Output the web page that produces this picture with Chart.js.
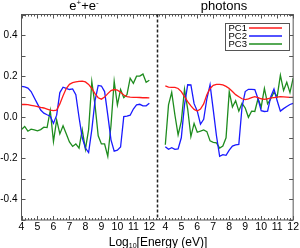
<!DOCTYPE html>
<html>
<head>
<meta charset="utf-8">
<script src="https://cdn.jsdelivr.net/npm/chart.js@4"></script>
<style>
  html, body { margin: 0; padding: 0; background: #fff; }
  #wrap { width: 300px; height: 248px; }
</style>
</head>
<body>
<div id="wrap"><canvas id="pcChart"></canvas></div>
<script>
// log10 of the energy (eV), same grid for both panels
const logEnergy = [4.0, 4.2, 4.4, 4.6, 4.8, 5.0, 5.2, 5.4, 5.6, 5.8,
                   6.0, 6.2, 6.4, 6.6, 6.8, 7.0, 7.2, 7.4, 7.6, 7.8,
                   8.0, 8.2, 8.4, 8.6, 8.8, 9.0, 9.2, 9.4, 9.6, 9.8,
                   10.0, 10.2, 10.4, 10.6, 10.8, 11.0, 11.2, 11.4, 11.6, 11.8, 12.0];

// e+ + e- panel
const leptonPC1 = [0.062, 0.062, 0.061, 0.058, 0.055, 0.052, 0.048, 0.045, 0.040, 0.035,
                   0.032, 0.035, 0.065, 0.105, 0.140, 0.160, 0.168, 0.172, 0.175, 0.176,
                   0.172, 0.160, 0.140, 0.115, 0.095, 0.088, 0.098, 0.115, 0.130, 0.135,
                   0.132, 0.122, 0.108, 0.100, 0.098, 0.097, 0.097, 0.096, 0.095, 0.095, 0.094];
const leptonPC2 = [0.150, 0.148, 0.142, 0.125, 0.095, 0.065, 0.035, 0.020, 0.012, 0.005,
                   -0.030, 0.010, 0.120, 0.146, 0.140, 0.135, 0.138, 0.110, 0.000, -0.100,
                   -0.150, -0.172, -0.060, 0.080, 0.155, 0.152, 0.125, 0.010, -0.110, -0.165,
                   -0.160, -0.145, 0.003, 0.005, 0.010, 0.040, 0.060, 0.063, 0.055, 0.056, 0.068];
const leptonPC3 = [-0.060, -0.045, -0.068, -0.058, -0.062, -0.066, -0.060, -0.048, -0.050, 0.033,
                   -0.118, -0.013, -0.081, -0.041, -0.080, -0.120, -0.142, -0.130, -0.150, -0.060,
                   -0.155, -0.060, 0.173, 0.060, -0.090, -0.130, -0.130, -0.190, -0.040, 0.175,
                   0.060, 0.135, 0.095, 0.110, 0.190, 0.165, 0.200, 0.200, 0.210, 0.170, 0.180];

// photons panel
const photonPC1 = [0.153, 0.147, 0.145, 0.145, 0.140, 0.125, 0.100, 0.076, 0.055, 0.038,
                   0.030, 0.040, 0.065, 0.110, 0.140, 0.155, 0.160, 0.160, 0.157, 0.150,
                   0.140, 0.125, 0.110, 0.100, 0.090, 0.086, 0.090, 0.096, 0.100, 0.096,
                   0.090, 0.087, 0.090, 0.094, 0.096, 0.098, 0.100, 0.099, 0.098, 0.097, 0.097];
const photonPC2 = [-0.143, -0.156, -0.148, -0.156, -0.154, -0.100, 0.060, 0.158, 0.157, 0.066,
                   0.030, -0.034, -0.010, 0.090, 0.158, 0.036, -0.090, -0.190, -0.182, -0.185,
                   -0.160, -0.140, -0.134, -0.132, 0.050, 0.125, 0.136, 0.136, 0.135, 0.090,
                   0.032, 0.028, 0.030, 0.100, 0.137, 0.080, 0.030, 0.042, 0.052, 0.062, 0.068];
const photonPC3 = [-0.134, 0.060, 0.121, 0.011, -0.086, -0.020, 0.136, 0.040, -0.094, -0.030,
                   -0.073, -0.068, -0.062, -0.070, -0.115, -0.122, -0.125, -0.150, -0.140, -0.100,
                   0.124, 0.050, 0.080, 0.030, 0.068, 0.045, 0.000, 0.030, 0.028, 0.090,
                   0.050, 0.140, 0.065, 0.090, 0.122, 0.100, 0.205, 0.130, 0.170, 0.120, 0.190];

const seriesNames = ['PC1', 'PC2', 'PC3'];
const seriesColors = ['#ff1a1a', '#1a1aff', '#1e8c1e'];
const panelTitles = ['photons'];

// the photon panel is placed right of the lepton one on a shared axis
const PANEL_SHIFT = 9;
const SPLIT_AT = 12.5;

function joinPanels(left, right) {
  const pts = logEnergy.map((e, i) => ({ x: e, y: left[i] }));
  pts.push({ x: SPLIT_AT, y: null });
  logEnergy.forEach((e, i) => pts.push({ x: e + PANEL_SHIFT, y: right[i] }));
  return pts;
}

const lefts = [leptonPC1, leptonPC2, leptonPC3];
const rights = [photonPC1, photonPC2, photonPC3];

const datasets = seriesNames.map((name, k) => ({
  label: name,
  data: joinPanels(lefts[k], rights[k]),
  borderColor: seriesColors[k],
  borderWidth: 1.3,
  pointRadius: 0,
  tension: 0,
  spanGaps: false
}));

const frameColor = '#555';
const fontFamily = '"Liberation Sans", Arial, sans-serif';

const decorPlugin = {
  id: 'decor',
  afterDraw(chart) {
    const ctx = chart.ctx;
    const a = chart.chartArea;
    const xs = chart.scales.x;
    const ys = chart.scales.y;
    ctx.save();

    // frame
    ctx.strokeStyle = frameColor;
    ctx.lineWidth = 1;
    ctx.strokeRect(a.left, a.top, a.right - a.left, a.bottom - a.top);

    // y ticks, both sides, inward
    ctx.beginPath();
    ys.ticks.forEach(t => {
      const py = Math.round(ys.getPixelForValue(t.value)) + 0.5;
      ctx.moveTo(a.left, py); ctx.lineTo(a.left + 4, py);
      ctx.moveTo(a.right, py); ctx.lineTo(a.right - 4, py);
    });
    // x major ticks, top and bottom
    xs.ticks.forEach(t => {
      const px = Math.round(xs.getPixelForValue(t.value)) + 0.5;
      ctx.moveTo(px, a.bottom); ctx.lineTo(px, a.bottom - 4);
      ctx.moveTo(px, a.top); ctx.lineTo(px, a.top + 4);
    });
    // x minor ticks every 0.2
    for (let v = xs.min; v <= xs.max + 1e-6; v += 0.2) {
      const px = Math.round(xs.getPixelForValue(v)) + 0.5;
      ctx.moveTo(px, a.bottom); ctx.lineTo(px, a.bottom - 2);
      ctx.moveTo(px, a.top); ctx.lineTo(px, a.top + 2);
    }
    ctx.stroke();

    // panel divider
    const sx = Math.round(xs.getPixelForValue(SPLIT_AT)) + 0.5;
    ctx.strokeStyle = '#222';
    ctx.lineWidth = 1.5;
    ctx.setLineDash([3, 2]);
    ctx.beginPath();
    ctx.moveTo(sx, a.top); ctx.lineTo(sx, a.bottom);
    ctx.stroke();
    ctx.setLineDash([]);

    // panel titles
    ctx.fillStyle = '#000';
    ctx.textBaseline = 'alphabetic';
    const big = '13px ' + fontFamily;
    const small = '8px ' + fontFamily;
    const parts = [['e', big, 0], ['+', small, -5], ['+e', big, 0], ['-', small, -5]];
    let w = 0;
    parts.forEach(p => { ctx.font = p[1]; w += ctx.measureText(p[0]).width; });
    let tx = 84 - w / 2;
    ctx.textAlign = 'left';
    parts.forEach(p => {
      ctx.font = p[1];
      ctx.fillText(p[0], tx, 10 + p[2]);
      tx += ctx.measureText(p[0]).width;
    });
    ctx.font = big;
    ctx.textAlign = 'center';
    ctx.fillText(panelTitles[0], 224, 10);

    // x axis title with subscript
    const tparts = [['Log', '12px ' + fontFamily, 0],
                    ['10', '7px ' + fontFamily, 2],
                    ['[Energy (eV)]', '12px ' + fontFamily, 0]];
    w = 0;
    tparts.forEach(p => { ctx.font = p[1]; w += ctx.measureText(p[0]).width; });
    tx = 158 - w / 2;
    ctx.textAlign = 'left';
    tparts.forEach(p => {
      ctx.font = p[1];
      ctx.fillText(p[0], tx, 246 + p[2]);
      tx += ctx.measureText(p[0]).width;
    });

    // legend box
    const lx = 225.5, ly = 23.5, lw = 64, lh = 27;
    ctx.fillStyle = '#fff';
    ctx.fillRect(lx, ly, lw, lh);
    ctx.strokeStyle = frameColor;
    ctx.lineWidth = 1;
    ctx.strokeRect(lx, ly, lw, lh);
    ctx.font = '9.5px ' + fontFamily;
    ctx.textBaseline = 'middle';
    seriesNames.forEach((name, k) => {
      const yy = 28 + k * 8;
      ctx.fillStyle = '#000';
      ctx.fillText(name, 228.5, yy + 0.5);
      ctx.strokeStyle = seriesColors[k];
      ctx.lineWidth = 1.6;
      ctx.beginPath();
      ctx.moveTo(249, yy); ctx.lineTo(282, yy);
      ctx.stroke();
    });
    ctx.restore();
  }
};

const ctx = document.getElementById('pcChart').getContext('2d');
new Chart(ctx, {
  type: 'line',
  data: { datasets },
  options: {
    responsive: true,
    maintainAspectRatio: false,
    animation: false,
    layout: { padding: { left: 0, right: 6, top: 14.5, bottom: 0 } },
    plugins: {
      legend: { display: false },
      tooltip: { enabled: false }
    },
    scales: {
      x: {
        type: 'linear',
        min: 4,
        max: 21,
        grid: { display: false, drawTicks: false },
        border: { display: false },
        afterFit(scale) { scale.height = 28; },
        ticks: {
          stepSize: 1,
          autoSkip: false,
          maxRotation: 0,
          padding: 1,
          color: '#000',
          font: { family: fontFamily, size: 10.5 },
          callback: v => (v <= 12 ? v : v - PANEL_SHIFT)
        }
      },
      y: {
        min: -0.5,
        max: 0.5,
        grid: { display: false, drawTicks: false },
        border: { display: false },
        afterFit(scale) { scale.width = 21.5; },
        ticks: {
          stepSize: 0.1,
          padding: 4,
          color: '#000',
          font: { family: fontFamily, size: 10 },
          callback: v => {
            const tenth = Math.round(v * 10);
            if (tenth % 2 !== 0) return '';
            return (tenth / 10).toFixed(1);
          }
        }
      }
    }
  },
  plugins: [decorPlugin]
});
</script>
</body>
</html>
